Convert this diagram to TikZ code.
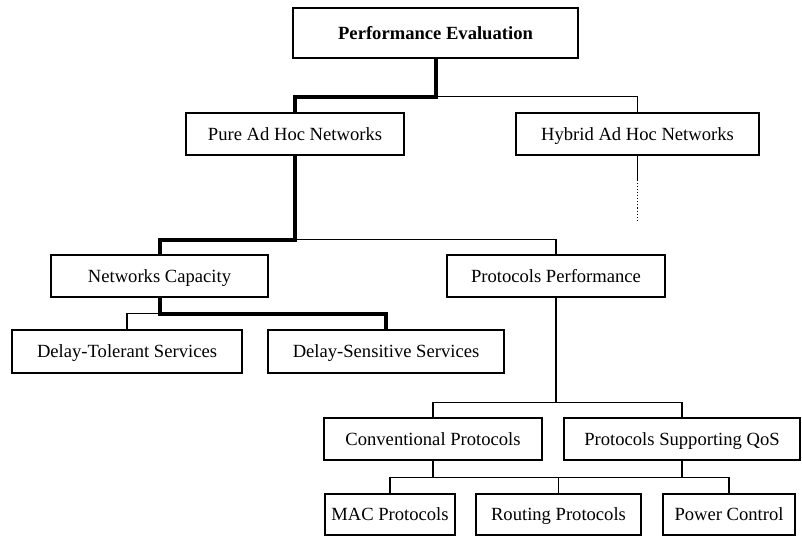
\documentclass[tikz,border=0pt]{standalone}
\usepackage{fontspec}
\setmainfont{Liberation Serif}
\usetikzlibrary{calc}
\begin{document}
\begin{tikzpicture}[x=1pt,y=-1pt,
  box/.style={draw, line width=1.1pt, inner sep=0pt, minimum width=#1,
    text height=15pt, text depth=3pt,
    font=\fontsize{18.6}{22}\selectfont},
  link/.style={line width=1.1pt},
  main/.style={line width=4pt}]
\useasboundingbox (0,0) rectangle (802,536);

% boxes
\node[box=285pt, minimum height=50pt, font=\fontsize{18.6}{22}\selectfont\bfseries] (pe) at (435.5,33) {Performance Evaluation};
\node[box=218pt, minimum height=42pt] (pure) at (295,134) {Pure Ad Hoc Networks};
\node[box=243pt, minimum height=42pt] (hybrid) at (637.5,134) {Hybrid Ad Hoc Networks};
\node[box=217pt, minimum height=42pt] (cap) at (159.5,276) {Networks Capacity};
\node[box=218pt, minimum height=42pt] (proto) at (556,276) {Protocols Performance};
\node[box=230pt, minimum height=43pt] (dtol) at (127,351.5) {Delay-Tolerant Services};
\node[box=236pt, minimum height=43pt] (dsen) at (386,351.5) {Delay-Sensitive Services};
\node[box=218pt, minimum height=42pt] (conv) at (433,439) {Conventional Protocols};
\node[box=236pt, minimum height=42pt] (qos) at (682,439) {Protocols Supporting QoS};
\node[box=130pt, minimum height=41pt] (mac) at (390,514.5) {MAC Protocols};
\node[box=165pt, minimum height=41pt] (rout) at (558.5,514.5) {Routing Protocols};
\node[box=132pt, minimum height=41pt] (power) at (729,514.5) {Power Control};

% thin branches
\draw[link] (pe.south) ++(0,38) -| (hybrid.north);
\draw[link] (pure.south) ++(0,84) -| (proto.north);
\draw[link] (cap.south) ++(0,16) -| (dtol.north);
\draw[link] (proto.south) -- ++(0,105) coordinate (pbus) -| (conv.north);
\draw[link] (pbus) -| (qos.north);
\coordinate (bus) at ($(conv.south)+(0,17)$);
\draw[link] (conv.south) -- (bus) -| (mac.north);
\draw[link] (bus) -| (power.north);
\draw[link] (qos.south) -- (qos.south |- bus);
\draw[link] (rout.north) -- (rout.north |- bus);
\draw[link] (hybrid.south) -- ++(0,24) coordinate (hx);
\draw[link, dotted] (hx) -- ++(0,42);

% highlighted path
\draw[main] (pe.south) -- ++(0,38) -| (pure.north);
\draw[main] (pure.south) -- ++(0,84) -| (cap.north);
\draw[main] (cap.south) -- ++(0,16) -| (dsen.north);
\end{tikzpicture}
\end{document}
